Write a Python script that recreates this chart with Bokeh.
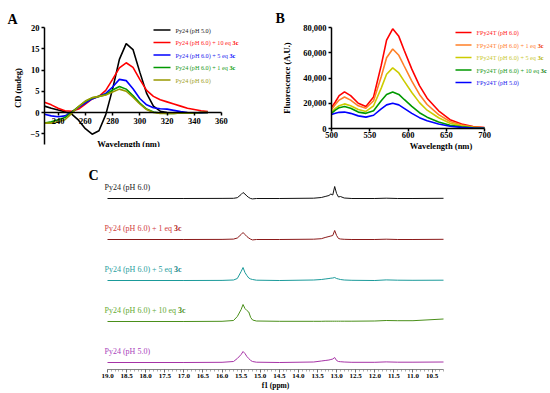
import numpy as np
from bokeh.plotting import figure
from bokeh.models import Range1d, FixedTicker, Label, BoxAnnotation, NumeralTickFormatter, Title
from bokeh.layouts import column, row
from bokeh.embed import file_html
from bokeh.resources import INLINE

# ---------------- Panel A: CD spectra ----------------
cd_wavelength = [230, 235, 240, 245, 250, 255, 260, 265, 270, 275, 280, 285, 290,
                 295, 300, 305, 310, 315, 320, 325, 330, 335, 340, 345, 350]
cd_py24_ph5 = [1.5, 1.0, 0.6, 0.2, -0.4, -1.8, -3.8, -5.1, -4.3, -0.5, 5.5, 12.5, 16.2,
               14.8, 9.5, 4.5, 1.5, 0.3, 0.0, -0.1, -0.1, -0.1, -0.1, 0.0, 0.0]
cd_py24_ph6_10eq = [2.4, 1.8, 1.0, 0.4, 0.3, 0.8, 2.0, 3.2, 3.8, 5.2, 7.8, 10.5, 11.7,
                    10.6, 7.8, 5.2, 3.8, 3.0, 2.5, 2.0, 1.5, 1.0, 0.7, 0.4, 0.2]
cd_py24_ph6_5eq = [-0.4, -0.8, -1.0, -0.8, 0.1, 1.2, 2.2, 3.2, 3.8, 4.5, 6.0, 7.8, 7.5,
                   5.6, 3.3, 1.8, 1.1, 0.9, 0.8, 0.5, 0.2, 0.0, -0.1, -0.1, 0.0]
cd_py24_ph6_1eq = [-2.5, -2.2, -1.7, -1.2, 0.1, 1.4, 2.6, 3.4, 3.8, 4.2, 5.3, 6.1, 5.5,
                   4.0, 2.2, 0.8, 0.1, -0.1, -0.2, -0.2, -0.1, -0.1, -0.1, 0.0, 0.0]
cd_py24_ph6 = [-2.5, -2.5, -2.2, -1.7, -0.2, 1.4, 2.7, 3.5, 3.8, 4.1, 4.8, 5.5, 5.0,
               3.6, 2.0, 0.7, 0.0, -0.2, -0.2, -0.2, -0.1, -0.1, -0.1, 0.0, 0.0]
cd_labels = ["Py24 (pH 5.0)", "Py24 (pH 6.0) + 10 eq ", "Py24 (pH 6.0) + 5 eq ",
             "Py24 (pH 6.0) + 1 eq ", "Py24 (pH 6.0)"]
cd_bold = ["", "3c", "3c", "3c", ""]
cd_x_ticks = [240, 260, 280, 300, 320, 340, 360]
cd_y_ticks = [-5, 0, 5, 10, 15, 20]

# ---------------- Panel B: fluorescence ----------------
fl_wavelength = [500, 505, 510, 517, 525, 535, 545, 555, 565, 572, 580, 588, 595,
                 605, 615, 625, 640, 655, 670, 685, 700]
fl_ph6 = [16500, 21000, 26000, 29000, 26000, 20000, 17500, 25000, 50000, 70000, 79000,
          73000, 62000, 47000, 34000, 24000, 14000, 7000, 3500, 1500, 800]
fl_ph6_1eq = [15000, 19000, 22500, 25000, 22500, 18000, 16000, 22000, 41000, 56000, 63000,
              58000, 49500, 37500, 27000, 19000, 11000, 5500, 2800, 1200, 600]
fl_ph6_5eq = [13000, 16000, 18000, 19500, 18000, 15000, 13500, 18000, 32000, 43000, 48000,
              44000, 37500, 28500, 20500, 14500, 8500, 4200, 2100, 900, 400]
fl_ph6_10eq = [12000, 14500, 16500, 17500, 16000, 13000, 12000, 14000, 22000, 27000, 29000,
               27000, 23000, 17500, 12500, 9000, 5200, 2600, 1300, 600, 300]
fl_ph5 = [11000, 12000, 12800, 13000, 12000, 10000, 9000, 10500, 15500, 18700, 20000,
          18700, 16000, 12000, 8600, 6200, 3600, 1800, 900, 400, 200]
fl_labels = ["FPy24T (pH 6.0)", "FPy24T (pH 6.0) + 1 eq ", "FPy24T (pH 6.0) + 5 eq ",
             "FPy24T (pH 6.0) + 10 eq ", "FPy24T (pH 5.0)"]
fl_bold = ["", "3c", "3c", "3c", ""]
fl_x_ticks = [500, 550, 600, 650, 700]
fl_y_ticks = [0, 20000, 40000, 60000, 80000]

# ---------------- Panel C: 1H NMR imino region ----------------
nmr_ppm = [19.0, 17.0, 16.0, 15.7, 15.6, 15.5, 15.45, 15.4, 15.35, 15.3, 15.25, 15.2, 15.1,
           14.5, 13.6, 13.4, 13.3, 13.2, 13.15, 13.1, 13.05, 13.0, 12.95, 12.9, 12.8, 12.6,
           12.0, 11.7, 11.4, 11.0, 10.2]
nmr_ph6 = [0, 0, 0.1, 0.2, 0.8, 4, 6, 4.5, 2.5, 1, 0, -0.4, 0,
           0, 0.3, 1, 2, 3, 4.5, 3.5, 12, 5, 1.5, 2, 0.5, 0,
           0, 0.3, 0, 0, 0.2]
nmr_1eq = [0, 0, 0.1, 0.4, 1.5, 5, 7, 5, 3, 1.5, 0.3, -0.4, 0,
           0, 0.3, 0.8, 2, 3, 3.5, 4, 9, 4, 1, 0.5, 0.2, 0,
           0, 0.3, 0, 0, 0.2]
nmr_5eq = [0, 0, 0.1, 0.5, 2, 9, 13, 8, 5, 2.5, 1.5, 1, 0.3,
           0, 0.5, 1, 1.5, 2, 2.3, 2.5, 3, 2, 1.5, 1, 0.5, 0.2,
           0, 0.6, 0.3, 0.2, 0.3]
nmr_10eq = [0, 0, 0.2, 1, 5, 12, 17, 13, 11, 9.5, 4, 1.5, 0.5,
            0.2, 0.2, 0.2, 0.3, 0.3, 0.3, 0.3, 0.3, 0.3, 0.3, 0.3, 0.3, 0.3,
            0.5, 1, 0.8, 0.8, 2.5]
nmr_ph5 = [0, 0, 0.2, 1, 4, 8, 11, 9, 6, 4, 2, 1, 0.3,
           0, 0.5, 1.5, 2, 2.5, 3, 3.5, 5, 2, 1, 0.8, 0.5, 0.2,
           0.2, 0.6, 0.3, 0.3, 0.5]
nmr_labels = ["Py24 (pH 6.0)", "Py24 (pH 6.0) + 1 eq ", "Py24 (pH 6.0) + 5 eq ",
              "Py24 (pH 6.0) + 10 eq ", "Py24 (pH 5.0)"]
nmr_bold = ["", "3c", "3c", "3c", ""]
nmr_ticks = [19.0, 18.5, 18.0, 17.5, 17.0, 16.5, 16.0, 15.5, 15.0, 14.5, 14.0,
             13.5, 13.0, 12.5, 12.0, 11.5, 11.0, 10.5]

# ---------------- styling helpers ----------------
SERIF = "Liberation Serif"
W = {' ': 250, '(': 333, ')': 333, '+': 564, '.': 250, 'P': 556, 'H': 722, 'T': 611,
     'F': 556, 'y': 500, 'p': 500, 'e': 444, 'q': 500, 'c': 444}
for d in "0123456789":
    W[d] = 500


def tw(s, size):
    return sum(W.get(ch, 500) for ch in s) / 1000.0 * size


def base_fig(fw, fh, xr, yr, left, right, top, bottom):
    p = figure(frame_width=fw, frame_height=fh, x_range=xr, y_range=yr,
               output_backend="svg", toolbar_location=None,
               min_border_left=left, min_border_right=right,
               min_border_top=top, min_border_bottom=bottom)
    p.outline_line_color = None
    p.xgrid.visible = False
    p.ygrid.visible = False
    p.background_fill_color = "white"
    p.border_fill_color = "white"
    return p


def style_axis(ax, size="8.5px", lw=1.5):
    ax.axis_line_width = lw
    ax.axis_line_color = "black"
    ax.major_tick_line_width = lw
    ax.major_tick_line_color = "black"
    ax.major_tick_out = 3
    ax.major_tick_in = 0
    ax.minor_tick_line_color = None
    ax.major_label_text_font = SERIF
    ax.major_label_text_font_style = "bold"
    ax.major_label_text_font_size = size
    ax.major_label_text_color = "black"
    ax.major_label_standoff = 2
    ax.axis_label_text_font = SERIF
    ax.axis_label_text_font_style = "bold"
    ax.axis_label_text_font_size = "8.5px"
    ax.axis_label_text_color = "black"
    ax.axis_label_standoff = 4


def text_label(p, x, y, text, color, size, bold=False, xu="screen", yu="screen",
               align="left", baseline="middle"):
    p.add_layout(Label(x=x, y=y, x_units=xu, y_units=yu, text=text, text_font=SERIF,
                       text_font_size=f"{size}px", text_color=color,
                       text_font_style="bold" if bold else "normal",
                       text_align=align, text_baseline=baseline))


def legend_entry(p, x0, x1, xt, y, color, text, bold_text, bold_color, size, text_color):
    p.add_layout(BoxAnnotation(left=x0, right=x1, bottom=y - 0.8, top=y + 0.8,
                               left_units="screen", right_units="screen",
                               bottom_units="screen", top_units="screen",
                               fill_color=color, fill_alpha=1.0, line_color=None,
                               level="overlay"))
    text_label(p, xt, y, text, text_color, size)
    if bold_text:
        text_label(p, xt + tw(text, size), y, bold_text, bold_color, size, bold=True)


def panel_letter(p, letter, offset, standoff):
    p.add_layout(Title(text=letter, align="left", offset=offset, standoff=standoff,
                       text_font=SERIF, text_font_size="14px", text_font_style="bold",
                       text_color="black", vertical_align="bottom"), "above")


# ---------------- Panel A figure ----------------
# frame: page x 44..275, page y 26..147 ; 1.3615 px/nm ; 4.25 px/mdeg, 20 at frame top
a_scale = 4.25
pA = base_fig(231, 121, Range1d(230, 230 + 231 / 1.3615),
              Range1d(20 - 121 / a_scale, 20), 44, 0, 26, 0)
style_axis(pA.xaxis[0])
style_axis(pA.yaxis[0])
pA.xaxis.fixed_location = 0
pA.xaxis.bounds = (230, 360)
pA.yaxis.bounds = (-7.5, 20)
pA.xaxis.ticker = FixedTicker(ticks=cd_x_ticks)
pA.yaxis.ticker = FixedTicker(ticks=cd_y_ticks)
pA.yaxis.axis_label = "CD (mdeg)"
panel_letter(pA, "A", -37, 2)

cd_series = [cd_py24_ph5, cd_py24_ph6_10eq, cd_py24_ph6_5eq, cd_py24_ph6_1eq, cd_py24_ph6]
cd_colors = ["#000000", "#ff0000", "#0000ff", "#009900", "#999900"]
cd_text_colors = ["#222222", "#ff1a1a", "#1a1aee", "#1a991a", "#a0a020"]
for ys, c in zip(cd_series, cd_colors):
    pA.line(cd_wavelength, ys, line_color=c, line_width=1.6)

for i in range(5):
    y = 147 - (28.5 + i * 12.5)
    legend_entry(pA, 109, 126, 131, y, cd_colors[i], cd_labels[i], cd_bold[i],
                 cd_colors[i], 6.2, cd_text_colors[i])
text_label(pA, 84, 5, "Wavelength (nm)", "black", 8.5, bold=True, align="center")

# ---------------- Panel B figure ----------------
# frame: page x 331..550, page y 27..128 ; 0.765 px/nm
pB = base_fig(219, 101, Range1d(500, 500 + 219 / 0.765), Range1d(0, 80000), 56, 0, 27, 37)
style_axis(pB.xaxis[0])
style_axis(pB.yaxis[0])
pB.xaxis.bounds = (500, 700)
pB.xaxis.ticker = FixedTicker(ticks=fl_x_ticks)
pB.yaxis.ticker = FixedTicker(ticks=fl_y_ticks)
pB.yaxis.formatter = NumeralTickFormatter(format="0,0")
pB.xaxis.axis_label = "Wavelength (nm)"
pB.yaxis.axis_label = "Fluorescence (A.U.)"
pB.xaxis.major_label_standoff = 0
pB.xaxis.axis_label_standoff = 0
pB.yaxis.axis_label_standoff = 8
panel_letter(pB, "B", -56, 3)

fl_series = [fl_ph6, fl_ph6_1eq, fl_ph6_5eq, fl_ph6_10eq, fl_ph5]
fl_colors = ["#ff0000", "#ff7f27", "#cccc00", "#009900", "#0000ff"]
fl_text_colors = ["#ff1a1a", "#ff8030", "#c8c830", "#1a991a", "#1a1aee"]
fl_bold_colors = ["#ff0000", "#ee3300", "#b0b000", "#007700", "#0000ff"]
for ys, c in zip(fl_series, fl_colors):
    pB.line(fl_wavelength, ys, line_color=c, line_width=1.6)
for i in range(5):
    y = 128 - (32 + i * 12.5)
    legend_entry(pB, 124, 140, 145, y, fl_colors[i], fl_labels[i], fl_bold[i],
                 fl_bold_colors[i], 6.2, fl_text_colors[i])

# ---------------- Panel C figure ----------------
# frame: page x 0..550, page y 165..369 ; 19.0 ppm at x=107, 10.2 ppm at x=443
ppx = (443 - 107) / (19.0 - 10.2)
pC = base_fig(550, 204, Range1d(19.0 + 107 / ppx, 10.2 - 107 / ppx), Range1d(0, 204), 0, 0, 0, 0)
pC.yaxis.visible = False
axc = pC.xaxis[0]
style_axis(axc, size="7px", lw=0.8)
axc.axis_line_color = "#666666"
axc.major_tick_line_color = "#444444"
axc.minor_tick_line_color = "#777777"
axc.minor_tick_line_width = 0.6
axc.minor_tick_out = 2
axc.minor_tick_in = 0
axc.major_label_standoff = 1
axc.axis_label_standoff = 0
axc.axis_label = "f1 (ppm)"
axc.axis_label_text_font_size = "7.5px"
axc.bounds = (10.2, 19.0)
axc.ticker = FixedTicker(ticks=nmr_ticks,
                         minor_ticks=list(np.round(np.arange(19.0, 10.15, -0.1), 1)))
axc.formatter = NumeralTickFormatter(format="0.0")

nmr_series = [nmr_ph6, nmr_1eq, nmr_5eq, nmr_10eq, nmr_ph5]
nmr_line_colors = ["#111111", "#8b1a1a", "#1a9a9a", "#4a8f1a", "#a633a6"]
nmr_text_colors = ["#222222", "#d04040", "#2aa0a0", "#66aa33", "#aa44bb"]
nmr_bold_colors = ["#222222", "#b02020", "#138585", "#4a8f1a", "#a633a6"]
step = 41
for i, ys in enumerate(nmr_series):
    off = 7 + (4 - i) * step
    pC.line(nmr_ppm, [v + off for v in ys], line_color=nmr_line_colors[i], line_width=1.0)
    text_label(pC, 104, off + 11, nmr_labels[i], nmr_text_colors[i], 8, yu="data")
    if nmr_bold[i]:
        text_label(pC, 104 + tw(nmr_labels[i], 8), off + 11, nmr_bold[i],
                   nmr_bold_colors[i], 8, bold=True, yu="data")
text_label(pC, 93, 194, "C", "black", 14, bold=True, align="center")

layout = column(row(pA, pB), pC)
open("out.html", "w").write(file_html(layout, INLINE))
